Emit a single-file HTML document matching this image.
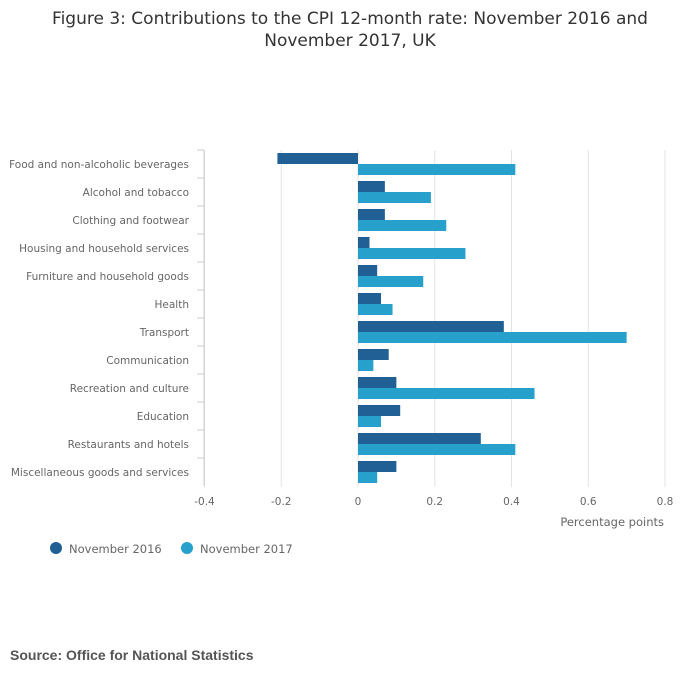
<!DOCTYPE html>
<html><head><meta charset="utf-8"><style>
body{margin:0;background:#fff;font-family:"Liberation Sans","DejaVu Sans",sans-serif;}
svg text{font-family:"Liberation Sans","DejaVu Sans",sans-serif;}
svg text.dv{font-family:"DejaVu Sans","Liberation Sans",sans-serif;}
</style></head><body>
<svg width="700" height="682" viewBox="0 0 700 682" xmlns="http://www.w3.org/2000/svg">
<text class="dv" x="350" y="24" text-anchor="middle" font-size="17" fill="#333">Figure 3: Contributions to the CPI 12-month rate: November 2016 and</text>
<text class="dv" x="350" y="46" text-anchor="middle" font-size="17" fill="#333">November 2017, UK</text>
<g id="grid"></g>
<g id="bars"></g>
<g id="labels"></g>
<text class="dv" x="664" y="526" text-anchor="end" font-size="11.5" fill="#666">Percentage points</text>
<g><circle cx="56" cy="548" r="6" fill="#206095"/><text class="dv" x="69" y="553" font-size="11.5" fill="#666">November 2016</text></g>
<g><circle cx="187" cy="548" r="6" fill="#27a0cc"/><text class="dv" x="200" y="553" font-size="11.5" fill="#666">November 2017</text></g>
<text x="10" y="660" font-size="14" font-weight="bold" fill="#555">Source: Office for National Statistics</text>
</svg>
<script>
const categories=["Food and non-alcoholic beverages","Alcohol and tobacco","Clothing and footwear","Housing and household services","Furniture and household goods","Health","Transport","Communication","Recreation and culture","Education","Restaurants and hotels","Miscellaneous goods and services"];
const nov2016=[-0.21,0.07,0.07,0.03,0.05,0.06,0.38,0.08,0.10,0.11,0.32,0.10];
const nov2017=[0.41,0.19,0.23,0.28,0.17,0.09,0.70,0.04,0.46,0.06,0.41,0.05];
const ticks=[-0.4,-0.2,0,0.2,0.4,0.6,0.8];
const NS="http://www.w3.org/2000/svg";
const x=v=>358+v*383.75;
const yTop=150,step=28;
function mk(t,a,p){const e=document.createElementNS(NS,t);for(const k in a)e.setAttribute(k,a[k]);p.appendChild(e);return e;}
const grid=document.getElementById('grid'),bars=document.getElementById('bars'),labels=document.getElementById('labels');
ticks.forEach(t=>{
 const l=mk('line',{x1:x(t),x2:x(t),y1:yTop,y2:yTop+step*categories.length+1,stroke:'#e3e3e3'},grid);
 
 
 const tx=mk('text',{x:x(t),y:505,'text-anchor':'middle','font-size':10.5,fill:'#666','class':'dv'},labels);
 tx.textContent=String(t);
 
 
});
const ax=mk('line',{x1:204,x2:204,y1:yTop,y2:yTop+step*categories.length,stroke:'#ccc'},grid);


categories.forEach((c,i)=>{
 const y0=yTop+i*step;
 const tk=mk('line',{x1:197,x2:204,y1:y0,y2:y0,stroke:'#ccc'},grid);
 
 
 const t=mk('text',{x:189,y:y0+18,'text-anchor':'end','font-size':10.5,fill:'#666','class':'dv'},labels);
 t.textContent=c;
 
 
 const a=nov2016[i],b=nov2017[i];
 const r1=mk('rect',{x:Math.min(x(0),x(a)),y:y0+3,width:Math.abs(x(a)-x(0)),height:11,fill:'#206095'},bars);
 
 
 const r2=mk('rect',{x:Math.min(x(0),x(b)),y:y0+14,width:Math.abs(x(b)-x(0)),height:11,fill:'#27a0cc'},bars);
 
 
});
</script>
</body></html>
